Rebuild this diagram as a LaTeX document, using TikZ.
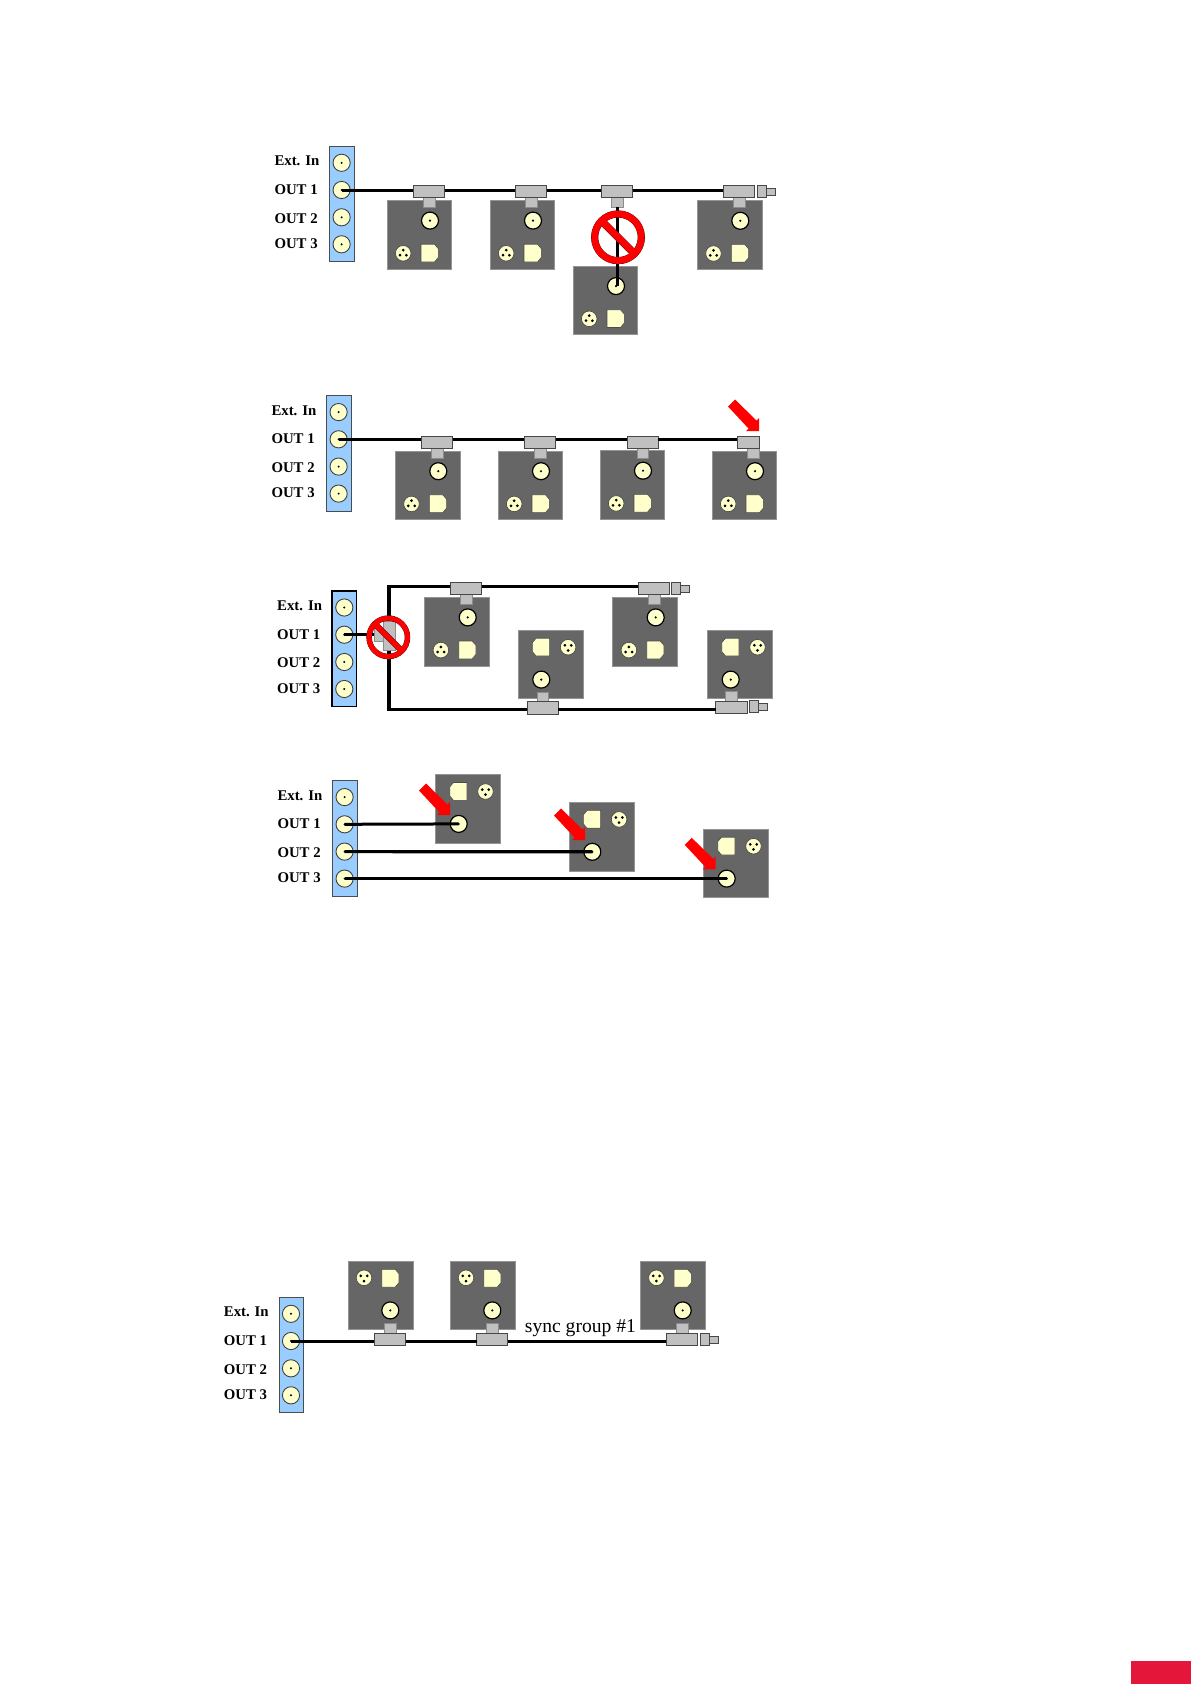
\documentclass[tikz,border=0pt]{standalone}
\usepackage{fontspec}
\setmainfont{Liberation Serif}
\definecolor{barblue}{HTML}{99CCFF}
\definecolor{conn}{HTML}{FFFFCC}
\definecolor{devgray}{HTML}{666666}
\definecolor{teegray}{HTML}{C0C0C0}
\definecolor{crimson}{HTML}{E4173A}
\tikzset{
  bareq/.style={rectangle,draw=#1,fill=barblue,anchor=north west,inner sep=0pt,outer sep=0pt,minimum width=24.4pt,minimum height=115.5pt},
  lab/.style={anchor=base west,inner sep=0pt,font=\fontsize{14.8}{16}\selectfont\bfseries},
  barconn/.style={circle,draw=black!75,line width=.9pt,fill=conn,minimum size=17.2pt,inner sep=0pt,outer sep=0pt},
  devbox/.style={rectangle,fill=devgray,draw=black!42,line width=.5pt,anchor=north west,inner sep=0pt,outer sep=0pt,minimum width=64.7pt,minimum height=68.6pt},
  devbnc/.style={circle,draw=black,line width=1.2pt,fill=conn,minimum size=17pt,inner sep=0pt,outer sep=0pt},
  devxlr/.style={circle,draw=black!70,line width=.7pt,fill=conn,minimum size=15.6pt,inner sep=0pt,outer sep=0pt},
  dconn/.style={fill=conn,draw=black!70,line width=.6pt},
  teebody/.style={rectangle,fill=teegray,draw=black!72,line width=.7pt,anchor=north west,inner sep=0pt,outer sep=0pt,minimum height=12.2pt},
  teestem/.style={rectangle,fill=teegray,draw=black!45,line width=.5pt,anchor=north west,inner sep=0pt,outer sep=0pt,minimum width=11.8pt,minimum height=9.6pt},
  splitter/.style={rectangle,fill=teegray,draw=black!45,line width=.5pt,anchor=north west,inner sep=0pt,outer sep=0pt},
  cable/.style={draw=black,line width=3pt},
  heavycable/.style={draw=black,line width=3.3pt},
  signring/.style={circle,inner sep=0pt,outer sep=0pt},
}
% bar of connectors with its labels
\newcommand{\panelbar}[4]{%
  \begin{scope}[shift={(#2,#3)}]
    \node[bareq=#4] (#1) at (0,0) {};
    \node[barconn] (#1-ext) at (12.3,16.8) {}; \fill (#1-ext.center) circle (1.1pt);
    \node[barconn] (#1-o1) at (12.3,44) {}; \fill (#1-o1.center) circle (1.1pt);
    \node[barconn] (#1-o2) at (12.3,71.3) {}; \fill (#1-o2.center) circle (1.1pt);
    \node[barconn] (#1-o3) at (12.3,98.3) {}; \fill (#1-o3.center) circle (1.1pt);
    \node[lab] (#1-l0) at (-55,19.7) {Ext. In};
    \node[lab] (#1-l1) at (-55,48.4) {OUT 1};
    \node[lab] (#1-l2) at (-55,77.1) {OUT 2};
    \node[lab] (#1-l3) at (-55,102.6) {OUT 3};
  \end{scope}}
% device: name, x, y, bnc pos, xlr pos, D pos, D mirror, dots flip
\newcommand{\devcore}[8]{%
  \begin{scope}[shift={(#2,#3)}]
    \node[devbox] (#1) at (0,0) {};
    \node[devbnc] (#1-bnc) at #4 {}; \fill (#1-bnc.center) circle (1.2pt);
    \node[devxlr] (#1-xlr) at #5 {};
    \fill[shift={#5},yscale=#8] (0,-3.2) circle (1.5pt) (-3.2,1.9) circle (1.5pt) (3.2,1.9) circle (1.5pt);
    \draw[dconn,shift={#6},xscale=#7] (0,0) -- (13.5,0) -- (17.3,4.5) -- (17.3,13.3) -- (13.5,17.8) -- (0,17.8) -- cycle;
  \end{scope}}
\newcommand{\devA}[3]{\devcore{#1}{#2}{#3}{(43,20.2)}{(16.2,52.9)}{(34,43.8)}{1}{1}}
\newcommand{\devB}[3]{\devcore{#1}{#2}{#3}{(23,49.6)}{(49.8,17.2)}{(31.3,8.2)}{-1}{-1}}
\newcommand{\devC}[3]{\devcore{#1}{#2}{#3}{(42,49.4)}{(15.7,16.8)}{(33.4,8.3)}{1}{-1}}
% T piece: name, x, y of body, stem y offset, width, stem x offset
\newcommand{\teepiece}[6]{%
  \begin{scope}[shift={(#2,#3)}]
    \node[teestem] (#1-stem) at (#6,#4) {};
    \node[teebody,minimum width=#5pt] (#1) at (0,0) {};
  \end{scope}}
\newcommand{\teedown}[3]{\teepiece{#1}{#2}{#3}{12.2}{31.3}{9.8}}
\newcommand{\teeup}[3]{\teepiece{#1}{#2}{#3}{-9.5}{31.3}{9.8}}
% terminator
\newcommand{\terminator}[3]{%
  \begin{scope}[shift={(#2,#3)}]
    \node[teebody,minimum width=9.4pt,minimum height=12.4pt] (#1) at (0,0) {};
    \node[teebody,minimum width=9pt,minimum height=7.2pt,line width=.6pt] (#1-tip) at (9.4,2.8) {};
  \end{scope}}
% red arrow, by its tip
\newcommand{\redarrow}[2]{%
  \fill[red,shift={(#1,#2)}] (0,0) -- (-13,0) -- (-10.5,-2.5) -- (-31,-24.5) -- (-24,-31.5) -- (-2.5,-10.5) -- (0,-13) -- cycle;}
% prohibition sign
\newcommand{\nosign}[6]{%
  \node[signring,draw=black,line width=#5pt+.4pt,minimum size=#4pt] (#1-back) at (#2,#3) {};
  \draw[black,line width=#6pt+.4pt] (#1-back.135) -- (#1-back.-45);
  \node[signring,draw=red,line width=#5pt,minimum size=#4pt] (#1) at (#2,#3) {};
  \draw[red,line width=#6pt] (#1.135) -- (#1.-45);}
\begin{document}
\begin{tikzpicture}[x=1pt,y=-1pt]
\useasboundingbox (0,0) rectangle (1191,1684);
% ---------- panel 1
\panelbar{a}{329.3}{146}{black!70}
\devA{a1}{387}{200.4}
\devA{a2}{490}{200.4}
\devA{a3}{573}{265.9}
\devA{a4}{697.3}{200.6}
\teedown{at1}{413.3}{185.4}
\teedown{at2}{515.3}{185.4}
\teedown{at3}{601.3}{185.4}
\teedown{at4}{723.3}{185.4}
\terminator{at5}{757.3}{185.2}
\draw[cable] (a-o1.center) -- (a-o1.center -| at1.west);
\draw[cable] (a-o1.center -| at1.east) -- (a-o1.center -| at2.west);
\draw[cable] (a-o1.center -| at2.east) -- (a-o1.center -| at3.west);
\draw[cable] (a-o1.center -| at3.east) -- (a-o1.center -| at4.west);
\draw[cable] (at3-stem.south) -- (at3-stem.south |- a3-bnc.center);
\nosign{asign}{618}{237.3}{46.7}{6.7}{7}
% ---------- panel 2
\panelbar{b}{326.3}{395.3}{black!70}
\devA{b1}{395.3}{451}
\devA{b2}{498}{451}
\devA{b3}{600}{450.5}
\devA{b4}{712}{451}
\teedown{bt1}{421.3}{436.3}
\teedown{bt2}{524.2}{436.3}
\teedown{bt3}{627}{436.1}
\teepiece{bt4}{737.3}{436.3}{12.2}{21.7}{10}
\draw[cable] (b-o1.center) -- (b-o1.center -| bt1.west);
\draw[cable] (b-o1.center -| bt1.east) -- (b-o1.center -| bt2.west);
\draw[cable] (b-o1.center -| bt2.east) -- (b-o1.center -| bt3.west);
\draw[cable] (b-o1.center -| bt3.east) -- (b-o1.center -| bt4.west);
\redarrow{759}{431}
% ---------- panel 3
\panelbar{c}{332}{590.7}{black}
\draw[black,line width=1.4pt] (c.north west) rectangle (c.south east);
\devA{c1}{424.7}{597.2}
\devA{c2}{612.7}{597.2}
\devB{c3}{518.3}{630}
\devB{c4}{707.7}{630}
\teedown{ct1}{450.3}{582.3}
\teedown{ct2}{638.3}{582.3}
\teeup{ct3}{527}{701.7}
\teeup{ct4}{715.7}{701.2}
\terminator{ct5}{671.3}{582.1}
\terminator{ct6}{749.3}{700.4}
\coordinate (ctop) at (389,586.5);
\coordinate (cbot) at (389,709.3);
\draw[heavycable] (c-o1.center) -- (c-o1.center -| ctop);
\draw[heavycable,line join=miter] (ctop -| ct1.west) -- (ctop) -- (cbot) -- (cbot -| ct3.west);
\draw[heavycable] (ctop -| ct1.east) -- (ctop -| ct2.west);
\draw[heavycable] (cbot -| ct3.east) -- (cbot -| ct4.west);
\node[splitter,minimum width=20.7pt,minimum height=13.7pt] (cs1) at (374.3,628) {};
\node[splitter,minimum width=12.4pt,minimum height=29pt] (cs2) at (383.3,621.7) {};
\nosign{csign}{388.3}{637.3}{38.4}{5}{5.5}
% ---------- panel 4
\panelbar{d}{332.3}{780.3}{black!70}
\devB{d1}{435.7}{774.3}
\devB{d2}{569.3}{802.2}
\devB{d3}{703.7}{829}
\draw[cable] (d-o1.center) -- (d1-bnc.center);
\draw[cable,line width=3.2pt] (d-o2.center) -- (d2-bnc.center);
\draw[cable,line width=3.2pt] (d-o3.center) -- (d3-bnc.center);
\redarrow{450}{815}
\redarrow{585}{840}
\redarrow{715.7}{869.3}
% ---------- panel 5
\panelbar{e}{278.7}{1297}{black!70}
\devC{e1}{348.3}{1261}
\devC{e2}{450.3}{1261}
\devC{e3}{640.7}{1261}
\teeup{et1}{374.3}{1333}
\teeup{et2}{476.5}{1333}
\teeup{et3}{666.3}{1333}
\terminator{et4}{700.3}{1333}
\draw[cable] (e-o1.center) -- (e-o1.center -| et1.west);
\draw[cable] (e-o1.center -| et1.east) -- (e-o1.center -| et2.west);
\draw[cable] (e-o1.center -| et2.east) -- (e-o1.center -| et3.west);
\node[anchor=base west,inner sep=0pt,font=\fontsize{19.6}{22}\selectfont] (sync) at (524.7,1332.3) {sync group \#1};
% ---------- page tab
\node[rectangle,fill=crimson,anchor=north west,inner sep=0pt,outer sep=0pt,minimum width=60.3pt,minimum height=23pt] (tab) at (1130.7,1661) {};
\end{tikzpicture}
\end{document}
